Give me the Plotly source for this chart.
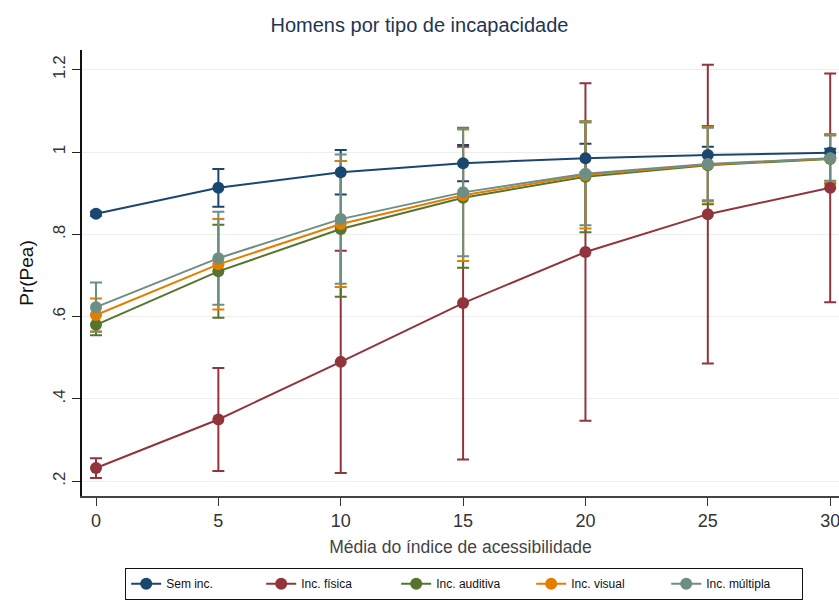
import plotly.graph_objects as go

x_vals = [0, 5, 10, 15, 20, 25, 30]
series_names = ["Sem inc.", "Inc. física", "Inc. auditiva", "Inc. visual", "Inc. múltipla"]
sem_inc = [0.850, 0.913, 0.951, 0.973, 0.985, 0.993, 0.998]
inc_fisica = [0.232, 0.350, 0.490, 0.633, 0.757, 0.849, 0.913]
inc_auditiva = [0.580, 0.710, 0.813, 0.889, 0.940, 0.968, 0.983]
inc_visual = [0.604, 0.727, 0.825, 0.895, 0.944, 0.970, 0.984]
inc_multipla = [0.623, 0.742, 0.837, 0.902, 0.947, 0.971, 0.985]
err_sem = [0.005, 0.046, 0.054, 0.044, 0.035, 0.020, 0.010]
err_fisica = [0.024, 0.125, 0.270, 0.380, 0.410, 0.363, 0.278]
err_auditiva = [0.025, 0.113, 0.165, 0.170, 0.135, 0.095, 0.060]
err_visual = [0.040, 0.110, 0.153, 0.160, 0.130, 0.090, 0.058]
err_multipla = [0.060, 0.113, 0.157, 0.155, 0.125, 0.088, 0.055]
y_ticks = [0.2, 0.4, 0.6, 0.8, 1.0, 1.2]
y_ticklabels = [".2", ".4", ".6", ".8", "1", "1.2"]
x_ticks = [0, 5, 10, 15, 20, 25, 30]

values = [sem_inc, inc_fisica, inc_auditiva, inc_visual, inc_multipla]
errors = [err_sem, err_fisica, err_auditiva, err_visual, err_multipla]
colors = ["#1a476f", "#90353b", "#55752f", "#e37e00", "#6e8e84"]

W, H = 839, 604
fig = go.Figure()
for name, v, e, c in zip(series_names, values, errors, colors):
    fig.add_trace(go.Scatter(
        x=x_vals, y=v, mode="markers", showlegend=False, hoverinfo="skip", cliponaxis=False,
        marker=dict(size=1, color="rgba(0,0,0,0)"),
        error_y=dict(type="data", array=e, symmetric=True, color=c, thickness=2, width=6),
    ))
for name, v, c in zip(series_names, values, colors):
    fig.add_trace(go.Scatter(
        x=x_vals, y=v, mode="lines+markers", name=name, cliponaxis=False,
        line=dict(color=c, width=2), marker=dict(color=c, size=12),
    ))

fig.update_layout(
    width=W, height=H,
    paper_bgcolor="white", plot_bgcolor="white",
    margin=dict(l=82, r=0, t=50, b=H - 496, autoexpand=False),
    font=dict(family="Liberation Sans, Arial, sans-serif", color="#222"),
    title=dict(text="Homens por tipo de incapacidade", x=0.5, xanchor="center", y=1 - 25 / H, yanchor="middle",
               font=dict(size=20, color="#1e3552")),
    xaxis=dict(range=[-0.572, 30.36], tickvals=x_ticks, ticks="outside", ticklen=8, tickwidth=1.3,
               tickcolor="#333", showgrid=False, zeroline=False, showline=True, linecolor="#444",
               linewidth=1.5, tickfont=dict(size=18, color="#333"), automargin=False,
               ticklabeloverflow="allow",
               title=dict(text="Média do índice de acessibilidade", font=dict(size=17.5, color="#444"), standoff=10)),
    yaxis=dict(range=[0.164, 1.248], tickvals=y_ticks, ticktext=y_ticklabels, tickangle=-90,
               ticks="outside", ticklen=8, tickwidth=1.3, tickcolor="#222", showgrid=True,
               gridcolor="#eeeeee", gridwidth=1.2, zeroline=False, showline=True, linecolor="#111",
               linewidth=1.5, tickfont=dict(size=17, color="#333"), automargin=False,
               title=dict(text="Pr(Pea)", font=dict(size=19, color="#111"), standoff=12)),
    legend=dict(orientation="h", x=(125 - 82) / 757, xanchor="left", xref="paper",
                y=1 - 568 / H, yanchor="top", yref="container",
                bordercolor="#111", borderwidth=1.2,
                font=dict(size=12, color="#111"),
                itemwidth=30, entrywidth=90, tracegroupgap=0),
    hovermode=False,
)
fig.write_html("out.html", config={"displayModeBar": False},
               post_script="document.body.style.margin='0';document.body.style.overflow='hidden';")
